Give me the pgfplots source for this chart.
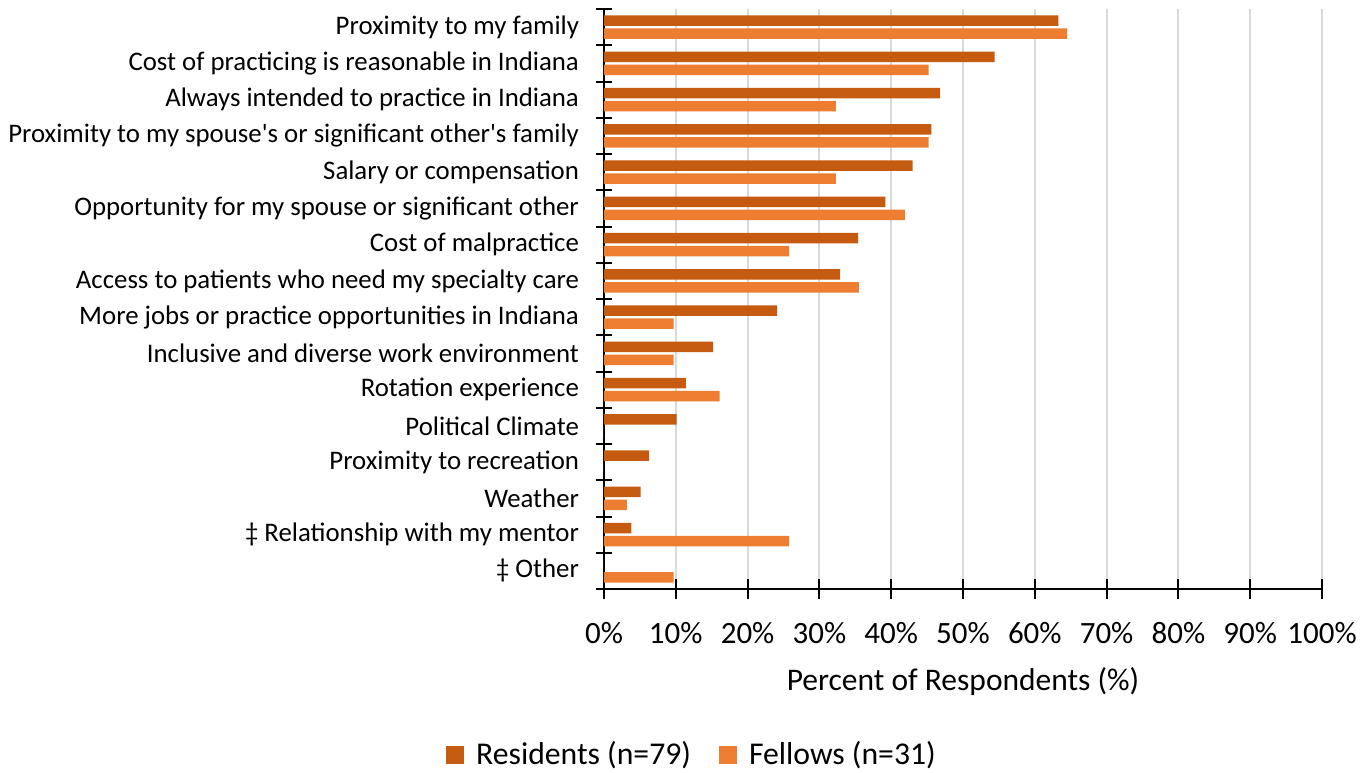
\documentclass[border=0pt]{standalone}
\usepackage{fontspec}
\setmainfont{Carlito}[Ligatures=TeXOff]
\usepackage{pgfplots}
\pgfplotsset{compat=1.18}
\definecolor{resid}{HTML}{C55A11}
\definecolor{fellow}{HTML}{ED7D31}
\definecolor{gridc}{HTML}{D9D9D9}
\begin{document}
\begin{tikzpicture}
\useasboundingbox (-302pt,-91.5pt) rectangle (383.5pt,294.5pt);
\begin{axis}[
  scale only axis,
  width=359pt, height=290pt,
  xbar,
  xmin=0, xmax=100,
  ymin=-0.5, ymax=15.5,
  y dir=reverse,
  axis lines=left,
  axis line style={-, black, line width=1pt},
  xtick={0,10,...,100},
  xticklabels={0\%,10\%,20\%,30\%,40\%,50\%,60\%,70\%,80\%,90\%,100\%},
  xticklabel style={font=\fontsize{15.5}{18}\selectfont, anchor=base, yshift=-22pt},
  major tick length=10pt,
  tick align=center,
  major x tick style={black, line width=1pt},
  major y tick style={draw=none},
  ytick={0,...,15},
  yticklabels={
    Proximity to my family\ ,
    Cost of practicing is reasonable in Indiana,
    Always intended to practice in Indiana,
    Proximity to my spouse's or significant other's family,
    Salary or compensation,
    Opportunity for my spouse or significant other,
    Cost of malpractice,
    Access to patients who need my specialty care,
    More jobs or practice opportunities in Indiana,
    Inclusive and diverse work environment,
    Rotation experience\ ,
    Political Climate,
    Proximity to recreation,
    Weather,
    ‡ Relationship with my mentor,
    ‡ Other},
  yticklabel style={font=\fontsize{13.4}{15}\selectfont, anchor=east, xshift=-4pt},
  minor ytick={-0.5,0.5,...,15.5},
  minor tick length=8pt,
  minor y tick style={black, line width=1pt},
  xmajorgrids,
  major grid style={gridc, line width=1pt},
  bar width=5.25pt,
  xlabel={Percent of Respondents (\%)},
  xlabel style={font=\fontsize{15.75}{18}\selectfont, at={(axis description cs:0.5,0)}, anchor=base, yshift=-50.5pt},
  legend style={at={(axis description cs:0.124,-0.286)}, anchor=center, draw=none, fill=none,
    font=\fontsize{15.85}{18}\selectfont,
    /tikz/every even column/.append style={column sep=12pt}},
  legend columns=2,
  legend image code/.code={\fill[#1] (0pt,-4.5pt) rectangle (9pt,4.5pt); \path (13pt,0pt);},
  clip=false,
]
\addplot[fill=resid, draw=none, bar shift=3.2pt] coordinates {
(63.3,0) (54.4,1) (46.8,2) (45.6,3) (43.0,4) (39.2,5) (35.4,6) (32.9,7)
(24.1,8) (15.2,9) (11.4,10) (10.1,11) (6.3,12) (5.1,13) (3.8,14) (0,15)};
\addlegendentry{Residents (n=79)}
\addplot[fill=fellow, draw=none, bar shift=-3.2pt] coordinates {
(64.5,0) (45.2,1) (32.3,2) (45.2,3) (32.3,4) (41.9,5) (25.8,6) (35.5,7)
(9.7,8) (9.7,9) (16.1,10) (0,11) (0,12) (3.2,13) (25.8,14) (9.7,15)};
\addlegendentry{Fellows (n=31)}
\end{axis}
\end{tikzpicture}
\end{document}
